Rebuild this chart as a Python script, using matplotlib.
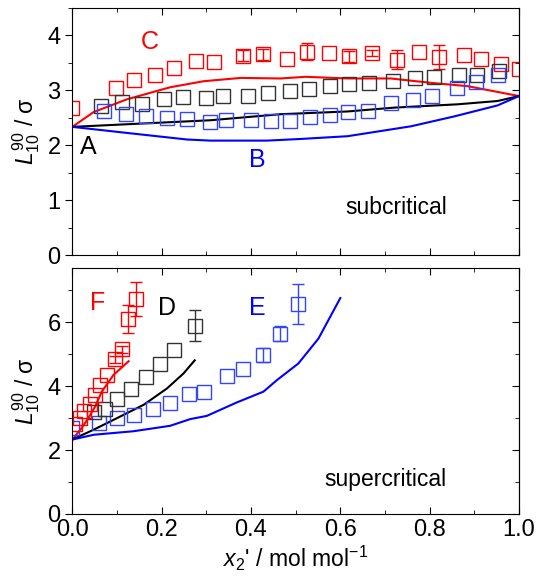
import numpy as np
import matplotlib
matplotlib.use('Agg')
import matplotlib.pyplot as plt
from matplotlib.ticker import MultipleLocator

plt.rcParams['font.family'] = ['Liberation Sans', 'DejaVu Sans']
plt.rcParams['mathtext.fontset'] = 'custom'
plt.rcParams['mathtext.rm'] = 'Liberation Sans'
plt.rcParams['mathtext.it'] = 'Liberation Sans:italic'

# ---- subcritical (top) ----
# simulation points
sub_C_x = [0.0, 0.098, 0.137, 0.185, 0.227, 0.277, 0.318, 0.381, 0.426, 0.480, 0.526, 0.575,
           0.620, 0.672, 0.726, 0.776, 0.821, 0.877, 0.914, 0.960, 1.0]
sub_C_y = [2.68, 3.04, 3.19, 3.28, 3.40, 3.52, 3.51, 3.62, 3.65, 3.56, 3.70, 3.67,
           3.61, 3.67, 3.55, 3.70, 3.60, 3.64, 3.56, 3.48, 3.39]
sub_C_err = [0, 0, 0, 0, 0, 0, 0, 0.1, 0.1, 0, 0.16, 0,
             0.1, 0.06, 0.17, 0, 0.22, 0, 0, 0, 0]

sub_A_x = [0.065, 0.111, 0.155, 0.205, 0.248, 0.299, 0.337, 0.394, 0.438, 0.487, 0.530, 0.577,
           0.620, 0.664, 0.717, 0.767, 0.810, 0.866, 0.907, 0.956]
sub_A_y = [2.71, 2.78, 2.75, 2.83, 2.88, 2.86, 2.90, 2.90, 2.95, 2.99, 3.01, 3.08,
           3.11, 3.13, 3.17, 3.22, 3.24, 3.28, 3.28, 3.34]

sub_B_x = [0.070, 0.121, 0.165, 0.212, 0.257, 0.308, 0.345, 0.401, 0.444, 0.488, 0.531, 0.576,
           0.617, 0.662, 0.714, 0.762, 0.806, 0.862, 0.903, 0.952]
sub_B_y = [2.61, 2.56, 2.52, 2.50, 2.48, 2.42, 2.45, 2.45, 2.43, 2.43, 2.51, 2.54,
           2.60, 2.61, 2.77, 2.81, 2.90, 3.04, 3.14, 3.28]

# model curves
line_C_x = [0.0, 0.048, 0.122, 0.219, 0.294, 0.377, 0.466, 0.522, 0.616, 0.713, 0.803, 0.885, 1.0]
line_C_y = [2.33, 2.60, 2.83, 3.05, 3.16, 3.22, 3.21, 3.24, 3.21, 3.21, 3.13, 3.07, 2.89]
line_A_x = [0.0, 0.309, 0.466, 0.616, 0.721, 0.862, 0.952, 1.0]
line_A_y = [2.33, 2.45, 2.56, 2.61, 2.68, 2.74, 2.80, 2.89]
line_B_x = [0.0, 0.122, 0.257, 0.309, 0.436, 0.511, 0.616, 0.758, 0.855, 0.952, 1.0]
line_B_y = [2.33, 2.22, 2.10, 2.08, 2.08, 2.11, 2.16, 2.34, 2.52, 2.72, 2.89]

# ---- supercritical (bottom) ----
sup_F_x = [0.007, 0.018, 0.027, 0.039, 0.050, 0.063, 0.078, 0.095, 0.111, 0.125, 0.143]
sup_F_y = [2.82, 3.00, 3.21, 3.45, 3.73, 4.04, 4.35, 4.84, 5.15, 6.11, 6.73]
sup_F_err = [0, 0, 0, 0, 0, 0, 0, 0.12, 0.12, 0.44, 0.53]

sup_D_x = [0.048, 0.074, 0.101, 0.131, 0.165, 0.197, 0.227, 0.274]
sup_D_y = [3.18, 3.29, 3.59, 3.90, 4.30, 4.71, 5.12, 5.90]
sup_D_err = [0, 0, 0, 0, 0, 0, 0, 0.48]

sup_E_x = [0.0, 0.059, 0.101, 0.139, 0.180, 0.218, 0.262, 0.295, 0.346, 0.383, 0.426, 0.464, 0.506]
sup_E_y = [2.69, 2.85, 3.00, 3.11, 3.28, 3.47, 3.75, 3.83, 4.33, 4.53, 4.97, 5.64, 6.57]
sup_E_err = [0, 0, 0, 0, 0, 0, 0, 0, 0, 0, 0.22, 0.23, 0.62]

line_F_x = [0.0, 0.018, 0.036, 0.051, 0.066, 0.092, 0.126]
line_F_y = [2.33, 2.64, 3.00, 3.36, 3.83, 4.35, 4.78]
line_D_x = [0.0, 0.048, 0.100, 0.160, 0.212, 0.249, 0.274]
line_D_y = [2.33, 2.64, 3.00, 3.42, 3.93, 4.40, 4.81]
line_E_x = [0.0, 0.048, 0.137, 0.219, 0.264, 0.301, 0.368, 0.428, 0.458, 0.506, 0.551, 0.600]
line_E_y = [2.33, 2.48, 2.59, 2.76, 2.97, 3.07, 3.49, 3.83, 4.19, 4.71, 5.49, 6.76]


def squares(ax, x, y, color, err=None):
    ax.plot(x, y, ls='none', marker='s', mfc='none', mec=color, ms=10, mew=1.0)
    if err is None:
        return
    x, y, err = np.array(x), np.array(y), np.array(err)
    m = err > 0
    ax.errorbar(x[m], y[m], yerr=err[m], fmt='none', ecolor=color, elinewidth=1.0, capsize=4)


fig = plt.figure(figsize=(5.36, 5.83), dpi=100)
ax1 = fig.add_axes([0.1349, 0.5626, 0.8334, 0.4245])
ax2 = fig.add_axes([0.1349, 0.1184, 0.8334, 0.4219])

# top panel
ax1.plot(line_C_x, line_C_y, color='red', lw=1.5)
ax1.plot(line_A_x, line_A_y, color='black', lw=1.5)
ax1.plot(line_B_x, line_B_y, color='blue', lw=1.5)
squares(ax1, sub_C_x, sub_C_y, 'red', sub_C_err)
squares(ax1, sub_A_x, sub_A_y, '#333333')
squares(ax1, sub_B_x, sub_B_y, '#3344ff')

ax1.text(0.174, 3.87, 'C', color='red', fontsize=18, ha='center', va='center')
ax1.text(0.036, 1.97, 'A', color='black', fontsize=18, ha='center', va='center')
ax1.text(0.415, 1.73, 'B', color='blue', fontsize=18, ha='center', va='center')
ax1.text(0.725, 0.86, 'subcritical', color='black', fontsize=16.5, ha='center', va='center')

ax1.set_xlim(0, 1.0)
ax1.set_ylim(0, 4.5)
ax1.yaxis.set_major_locator(MultipleLocator(1))
ax1.yaxis.set_minor_locator(MultipleLocator(0.5))
ax1.set_xticklabels([])

# bottom panel
ax2.plot(line_F_x, line_F_y, color='red', lw=1.5)
ax2.plot(line_D_x, line_D_y, color='black', lw=1.5)
ax2.plot(line_E_x, line_E_y, color='blue', lw=1.5)
squares(ax2, sup_E_x, sup_E_y, '#3344ff', sup_E_err)
squares(ax2, sup_D_x, sup_D_y, '#333333', sup_D_err)
squares(ax2, sup_F_x, sup_F_y, 'red', sup_F_err)

ax2.text(0.056, 6.6, 'F', color='red', fontsize=18, ha='center', va='center')
ax2.text(0.212, 6.45, 'D', color='black', fontsize=18, ha='center', va='center')
ax2.text(0.414, 6.45, 'E', color='blue', fontsize=18, ha='center', va='center')
ax2.text(0.70, 1.08, 'supercritical', color='black', fontsize=16.5, ha='center', va='center')

ax2.set_xlim(0, 1.0)
ax2.set_ylim(0, 7.7)
ax2.yaxis.set_major_locator(MultipleLocator(2))
ax2.yaxis.set_minor_locator(MultipleLocator(1))
ax2.set_xlabel("$x_2$' / mol mol$^{-1}$", fontsize=16.5, labelpad=2)

for ax in (ax1, ax2):
    ax.xaxis.set_major_locator(MultipleLocator(0.2))
    ax.xaxis.set_minor_locator(MultipleLocator(0.1))
    ax.tick_params(axis='x', which='both', direction='in', top=True, labelsize=17)
    ax.tick_params(axis='y', which='both', direction='out', right=False, labelsize=17)
    ax.tick_params(which='major', length=5)
    ax.tick_params(which='minor', length=3)
    # right-hand ticks point inwards
    sec = ax.secondary_yaxis('right')
    sec.yaxis.set_major_locator(ax.yaxis.get_major_locator())
    sec.yaxis.set_minor_locator(ax.yaxis.get_minor_locator())
    sec.tick_params(which='both', direction='in', labelright=False)
    sec.tick_params(which='major', length=5)
    sec.tick_params(which='minor', length=3)
    ax.set_ylabel(r'$L_{10}^{90}$ / σ', fontsize=16.5, labelpad=4)

fig.savefig('out.png', dpi=100)
